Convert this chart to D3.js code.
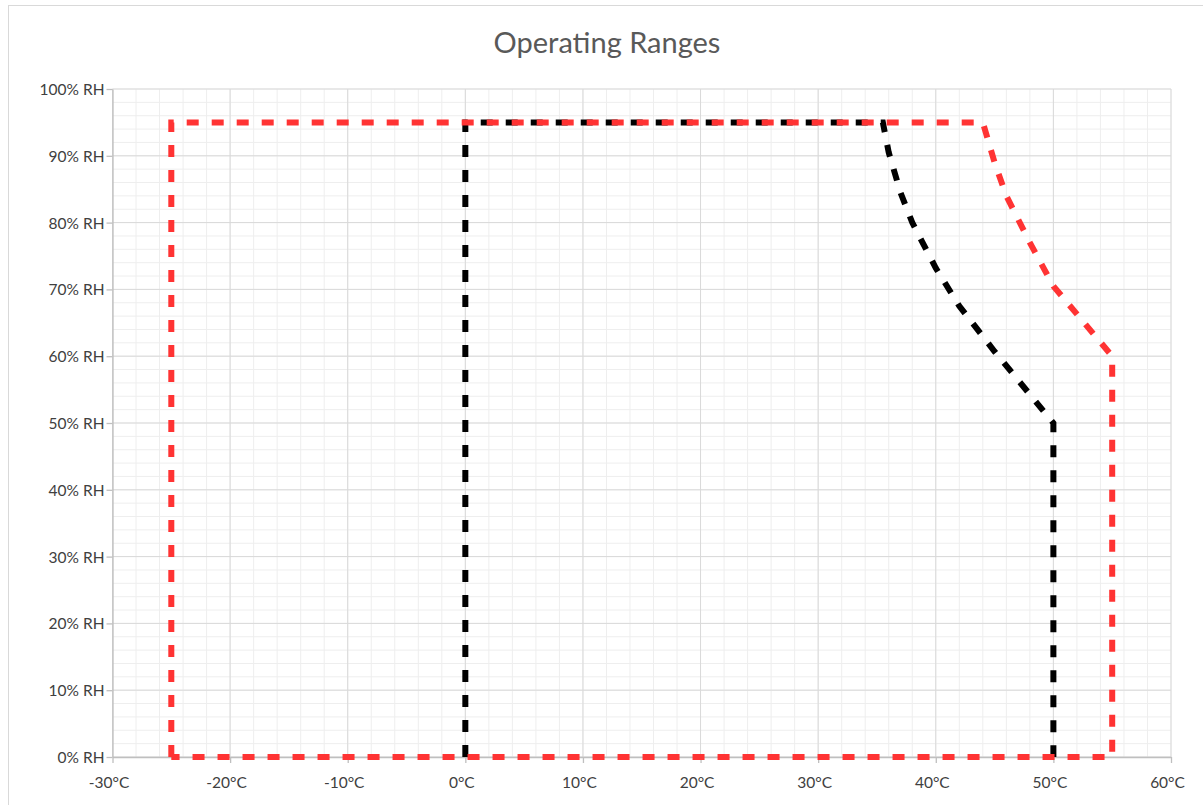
<!DOCTYPE html>
<html>
<head>
<meta charset="utf-8">
<script src="https://cdn.jsdelivr.net/npm/d3@7"></script>
<style>
  body { margin: 0; background: #fff; }
  svg text { font-family: Lato, "Liberation Sans", sans-serif; }
</style>
</head>
<body>
<div id="chart"></div>
<script>
// chart values
var title = "Operating Ranges";
var xTicks = [-30, -20, -10, 0, 10, 20, 30, 40, 50, 60];
var yTicks = [0, 10, 20, 30, 40, 50, 60, 70, 80, 90, 100];

// storage range (red) : temperature in °C, humidity in % RH
var redTemp = [-25, -25, 44, 45, 46, 48, 50, 55, 55, -25];
var redRH   = [0, 95, 95, 89, 84, 77, 70.5, 60, 0, 0];

// operating range (black), open at the bottom
var blackTemp = [0, 0, 35.5, 36, 37, 38, 40, 42, 45, 50, 50];
var blackRH   = [0, 95, 95, 90.5, 84.5, 80, 73.2, 67.5, 60.7, 50, 0];

var W = 1203, H = 805;
var margin = {top: 89, right: 32, bottom: 48, left: 112.5};

var svg = d3.select("#chart")
  .append("svg")
  .attr("width", W)
  .attr("height", H);

// outer chart frame
svg.append("rect")
  .attr("x", 8.5)
  .attr("y", 5.5)
  .attr("width", W)
  .attr("height", H)
  .attr("fill", "none")
  .attr("stroke", "#d9d9d9")
  .attr("stroke-width", 1);

var x = d3.scaleLinear()
  .domain([-30, 60])
  .range([margin.left, W - margin.right]);

var y = d3.scaleLinear()
  .domain([0, 100])
  .range([H - margin.bottom, margin.top]);

// minor grid every 2
var grid = svg.append("g");
grid.selectAll(".vmin")
  .data(d3.range(-30, 61, 2))
  .enter().append("line")
  .attr("x1", d => x(d)).attr("x2", d => x(d))
  .attr("y1", y(0)).attr("y2", y(100))
  .attr("stroke", "#eeeeee").attr("stroke-width", 1);
grid.selectAll(".hmin")
  .data(d3.range(0, 101, 2))
  .enter().append("line")
  .attr("y1", d => y(d)).attr("y2", d => y(d))
  .attr("x1", x(-30)).attr("x2", x(60))
  .attr("stroke", "#eeeeee").attr("stroke-width", 1);

// major grid
grid.selectAll(".vmaj")
  .data(xTicks)
  .enter().append("line")
  .attr("x1", d => x(d)).attr("x2", d => x(d))
  .attr("y1", y(0)).attr("y2", y(100))
  .attr("stroke", "#d9d9d9").attr("stroke-width", 1);
grid.selectAll(".hmaj")
  .data(yTicks)
  .enter().append("line")
  .attr("y1", d => y(d)).attr("y2", d => y(d))
  .attr("x1", x(-30)).attr("x2", x(60))
  .attr("stroke", "#d9d9d9").attr("stroke-width", 1);

// axes
var xAxis = svg.append("g")
  .attr("transform", `translate(0,${y(0)})`)
  .call(d3.axisBottom(x)
    .tickValues(xTicks)
    .tickSize(6)
    .tickSizeOuter(0)
    .tickFormat(d => d + "°C"));

var yAxis = svg.append("g")
  .attr("transform", `translate(${x(-30)},0)`)
  .call(d3.axisLeft(y)
    .tickValues(yTicks)
    .tickSize(6)
    .tickSizeOuter(0)
    .tickFormat(d => d + "% RH"));

[xAxis, yAxis].forEach(function (a) {
  a.select(".domain").attr("stroke", "#bfbfbf").attr("stroke-width", 1.3);
  a.selectAll(".tick line").attr("stroke", "#bfbfbf").attr("stroke-width", 1.3);
  a.selectAll(".tick text")
    .attr("fill", "#404040")
    .style("font-size", "15.5px");
});
xAxis.selectAll(".tick text").attr("dy", "1.4em").attr("dx", -4);
yAxis.selectAll(".tick text").attr("x", -8).attr("dy", "0.35em");

// title
svg.append("text")
  .attr("x", 607)
  .attr("y", 53)
  .attr("text-anchor", "middle")
  .attr("fill", "#595959")
  .style("font-size", "29px")
  .text(title);

var line = d3.line()
  .x(d => x(d[0]))
  .y(d => y(d[1]));

var blackData = d3.zip(blackTemp, blackRH);
var redData = d3.zip(redTemp, redRH);

svg.append("path")
  .datum(blackData)
  .attr("fill", "none")
  .attr("stroke", "#000000")
  .attr("stroke-width", 6)
  .attr("stroke-dasharray", "12,13")
  .attr("d", line);

svg.append("path")
  .datum(redData)
  .attr("fill", "none")
  .attr("stroke", "#ff3333")
  .attr("stroke-width", 6)
  .attr("stroke-dasharray", "12,13")
  .attr("d", line);
</script>
</body>
</html>
